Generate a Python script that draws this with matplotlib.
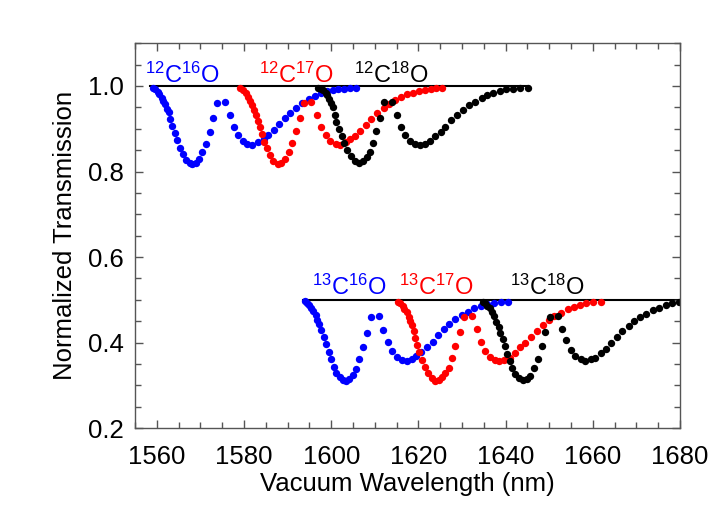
import matplotlib
matplotlib.use("Agg")
import matplotlib.pyplot as plt
from matplotlib.ticker import MultipleLocator, FormatStrFormatter

plt.rcParams['font.family'] = ['Liberation Sans', 'DejaVu Sans']
plt.rcParams['mathtext.default'] = 'regular'

# 12C16O
wl_12c16o = [1559.1, 1559.6, 1560.2, 1560.6, 1561.1, 1561.5, 1561.9, 1562.3, 1562.7, 1563.1,
             1563.6, 1564.1, 1564.7, 1565.3, 1565.9, 1566.7, 1567.5, 1568.1, 1568.9, 1569.6,
             1570.4, 1571.2, 1572.1, 1572.9, 1573.9, 1575.6, 1576.7, 1577.8, 1578.7, 1579.8,
             1580.8, 1581.9, 1583.1, 1584.5, 1585.6, 1586.8, 1588.1, 1589.4, 1590.6, 1592.0,
             1593.3, 1594.8, 1596.2, 1597.6, 1599.0, 1600.3, 1601.6, 1603.0, 1604.3, 1605.7]
tr_12c16o = [0.996, 0.992, 0.987, 0.981, 0.973, 0.965, 0.957, 0.947, 0.938, 0.922,
             0.907, 0.890, 0.874, 0.856, 0.840, 0.827, 0.819, 0.818, 0.821, 0.829,
             0.845, 0.865, 0.893, 0.925, 0.961, 0.963, 0.932, 0.905, 0.885, 0.872,
             0.864, 0.863, 0.868, 0.876, 0.885, 0.897, 0.911, 0.924, 0.936, 0.948,
             0.960, 0.969, 0.977, 0.984, 0.988, 0.991, 0.992, 0.994, 0.995, 0.996]

# 12C17O
wl_12c17o = [1579.1, 1579.8, 1580.4, 1580.9, 1581.4, 1581.9, 1582.3, 1582.7, 1583.1, 1583.6,
             1584.1, 1584.6, 1585.3, 1586.0, 1586.7, 1587.7, 1588.5, 1589.4, 1590.3, 1591.0,
             1592.0, 1592.8, 1593.7, 1595.4, 1596.7, 1597.6, 1598.7, 1599.8, 1601.0, 1602.1,
             1603.3, 1604.4, 1605.5, 1606.7, 1607.9, 1609.1, 1610.5, 1612.0, 1613.3, 1614.7,
             1616.1, 1617.4, 1618.8, 1620.1, 1621.5, 1622.8, 1624.1, 1625.5]
tr_12c17o = [0.996, 0.991, 0.983, 0.975, 0.965, 0.955, 0.943, 0.932, 0.919, 0.903,
             0.888, 0.870, 0.854, 0.839, 0.825, 0.818, 0.820, 0.829, 0.845, 0.866,
             0.894, 0.925, 0.961, 0.963, 0.932, 0.905, 0.885, 0.872, 0.864, 0.863,
             0.868, 0.876, 0.884, 0.895, 0.908, 0.922, 0.936, 0.948, 0.957, 0.967,
             0.974, 0.981, 0.984, 0.988, 0.991, 0.992, 0.995, 0.996]

# 12C18O
wl_12c18o = [1597.0, 1597.6, 1598.1, 1598.7, 1599.1, 1599.6, 1600.0, 1600.4, 1600.8, 1601.2,
             1601.7, 1602.4, 1603.0, 1603.7, 1604.5, 1605.4, 1606.4, 1607.4, 1608.1, 1608.9,
             1609.5, 1610.2, 1611.2, 1612.2, 1613.9, 1615.1, 1616.0, 1617.0, 1618.1, 1619.3,
             1620.4, 1621.6, 1622.7, 1623.9, 1625.1, 1626.2, 1627.4, 1628.9, 1630.2, 1631.6,
             1633.0, 1634.5, 1635.8, 1637.2, 1638.7, 1640.2, 1641.8, 1643.3, 1645.1]
tr_12c18o = [0.996, 0.994, 0.990, 0.984, 0.978, 0.970, 0.961, 0.950, 0.932, 0.915,
             0.899, 0.882, 0.866, 0.851, 0.837, 0.825, 0.820, 0.825, 0.833, 0.846,
             0.866, 0.894, 0.925, 0.963, 0.963, 0.932, 0.905, 0.885, 0.872, 0.864,
             0.862, 0.864, 0.872, 0.882, 0.893, 0.905, 0.920, 0.932, 0.944, 0.955,
             0.963, 0.971, 0.978, 0.984, 0.988, 0.992, 0.994, 0.995, 0.996]

# 13C16O
wl_13c16o = [1593.9, 1594.4, 1594.9, 1595.4, 1595.8, 1596.4, 1596.8, 1597.3, 1597.7, 1598.3,
             1598.7, 1599.4, 1600.0, 1600.6, 1601.2, 1602.0, 1602.7, 1603.3, 1604.0, 1604.9,
             1605.6, 1606.4, 1607.2, 1608.1, 1609.1, 1611.0, 1611.9, 1613.0, 1614.0, 1615.1,
             1616.2, 1617.4, 1618.5, 1619.5, 1620.7, 1622.0, 1623.3, 1624.5, 1625.8, 1627.1,
             1628.5, 1629.9, 1631.3, 1632.8, 1634.3, 1635.8, 1637.4, 1638.9, 1640.5]
tr_13c16o = [0.498, 0.493, 0.488, 0.481, 0.474, 0.464, 0.454, 0.444, 0.430, 0.414,
             0.397, 0.379, 0.361, 0.344, 0.330, 0.319, 0.313, 0.311, 0.315, 0.325,
             0.339, 0.361, 0.389, 0.423, 0.461, 0.463, 0.430, 0.402, 0.381, 0.367,
             0.360, 0.357, 0.361, 0.369, 0.379, 0.389, 0.402, 0.418, 0.431, 0.444,
             0.455, 0.464, 0.472, 0.480, 0.486, 0.490, 0.493, 0.494, 0.495]

# 13C17O
wl_13c17o = [1615.3, 1615.8, 1616.4, 1616.8, 1617.4, 1617.8, 1618.1, 1618.5, 1618.9, 1619.3,
             1619.7, 1620.2, 1620.8, 1621.5, 1622.2, 1623.0, 1623.9, 1624.7, 1625.5, 1626.2,
             1627.0, 1627.8, 1628.5, 1629.5, 1630.5, 1632.4, 1633.4, 1634.3, 1635.3, 1636.4,
             1637.5, 1638.5, 1639.7, 1640.9, 1642.1, 1643.4, 1644.5, 1645.8, 1647.2, 1648.5,
             1649.9, 1651.2, 1652.8, 1654.2, 1655.6, 1657.0, 1658.5, 1660.1, 1661.8]
tr_13c17o = [0.495, 0.492, 0.485, 0.478, 0.471, 0.461, 0.451, 0.441, 0.426, 0.410,
             0.395, 0.377, 0.360, 0.343, 0.329, 0.317, 0.311, 0.312, 0.319, 0.329,
             0.340, 0.364, 0.391, 0.424, 0.461, 0.462, 0.431, 0.402, 0.381, 0.367,
             0.360, 0.357, 0.360, 0.364, 0.375, 0.389, 0.400, 0.414, 0.428, 0.442,
             0.453, 0.462, 0.470, 0.478, 0.484, 0.488, 0.492, 0.494, 0.495]

# 13C18O
wl_13c18o = [1634.7, 1635.3, 1635.8, 1636.4, 1636.8, 1637.4, 1637.9, 1638.4, 1638.8, 1639.3,
             1639.8, 1640.3, 1640.9, 1641.5, 1642.1, 1643.0, 1643.9, 1644.8, 1645.7, 1646.6,
             1647.5, 1648.3, 1649.1, 1650.1, 1652.0, 1652.9, 1653.9, 1654.9, 1656.0, 1657.2,
             1658.3, 1659.5, 1660.6, 1661.8, 1663.0, 1664.2, 1665.5, 1666.7, 1668.2, 1669.5,
             1670.9, 1672.3, 1673.7, 1675.1, 1676.7, 1678.2, 1679.7]
tr_13c18o = [0.495, 0.492, 0.486, 0.480, 0.472, 0.462, 0.449, 0.437, 0.423, 0.408,
             0.391, 0.374, 0.357, 0.340, 0.327, 0.317, 0.312, 0.315, 0.322, 0.340,
             0.361, 0.392, 0.424, 0.461, 0.463, 0.431, 0.405, 0.383, 0.369, 0.361,
             0.358, 0.361, 0.365, 0.375, 0.385, 0.399, 0.412, 0.426, 0.439, 0.451,
             0.461, 0.468, 0.476, 0.482, 0.488, 0.492, 0.494]

# continuum levels (start, end, level)
base_12c = [1558.5, 1645.0, 1.0]
base_13c = [1593.5, 1680.0, 0.5]

labels = ['$^{12}$C$^{16}$O', '$^{12}$C$^{17}$O', '$^{12}$C$^{18}$O',
          '$^{13}$C$^{16}$O', '$^{13}$C$^{17}$O', '$^{13}$C$^{18}$O']
colors = ['blue', 'red', 'black', 'blue', 'red', 'black']
label_x = [1557.3, 1583.5, 1605.3, 1595.6, 1615.6, 1640.9]
label_y = [1.008, 1.008, 1.008, 0.511, 0.511, 0.511]

series = [(wl_12c16o, tr_12c16o), (wl_12c17o, tr_12c17o), (wl_12c18o, tr_12c18o),
          (wl_13c16o, tr_13c16o), (wl_13c17o, tr_13c17o), (wl_13c18o, tr_13c18o)]

fig = plt.figure(figsize=(7.2, 5.14), dpi=100)
ax = fig.add_axes([0.1875, 0.167, 0.757, 0.749])

for b in (base_12c, base_13c):
    ax.plot([b[0], b[1]], [b[2], b[2]], color='black', lw=1.5, zorder=1)

for (x, y), c in zip(series, colors):
    ax.plot(x, y, 'o', color=c, ms=5.3, mew=0, zorder=2)

for lab, c, lx, ly in zip(labels, colors, label_x, label_y):
    ax.text(lx, ly, lab, color=c, fontsize=17, ha='left', va='baseline')

ax.set_xlim(1555, 1680)
ax.set_ylim(0.2, 1.1)
ax.xaxis.set_major_locator(MultipleLocator(20))
ax.xaxis.set_minor_locator(MultipleLocator(5))
ax.yaxis.set_major_locator(MultipleLocator(0.2))
ax.yaxis.set_minor_locator(MultipleLocator(0.05))
ax.yaxis.set_major_formatter(FormatStrFormatter('%.1f'))

for s in ax.spines.values():
    s.set_color('#555555')
    s.set_linewidth(1)
ax.tick_params(which='both', direction='in', top=True, right=True, color='#555555',
               labelsize=18.5, width=1)
ax.tick_params(which='major', length=6)
ax.tick_params(axis='x', which='major', pad=12)
ax.tick_params(axis='y', which='major', pad=8)
ax.tick_params(which='minor', length=4)

ax.set_xlabel('Vacuum Wavelength (nm)', fontsize=18.5, labelpad=2)
ax.set_ylabel('Normalized Transmission', fontsize=18.5, labelpad=8)

fig.savefig('out.png', dpi=100)
